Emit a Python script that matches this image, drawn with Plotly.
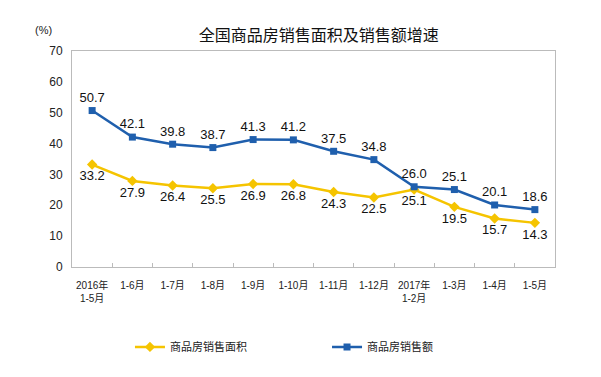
import plotly.graph_objects as go

categories = ["2016年<br>1-5月", "1-6月", "1-7月", "1-8月", "1-9月", "1-10月", "1-11月",
              "1-12月", "2017年<br>1-2月", "1-3月", "1-4月", "1-5月"]
area_growth = [33.2, 27.9, 26.4, 25.5, 26.9, 26.8, 24.3, 22.5, 25.1, 19.5, 15.7, 14.3]
sales_growth = [50.7, 42.1, 39.8, 38.7, 41.3, 41.2, 37.5, 34.8, 26.0, 25.1, 20.1, 18.6]
series_names = ["商品房销售面积", "商品房销售额"]

FONT = "Arial, Liberation Sans, Noto Sans CJK SC, sans-serif"
YELLOW = "#F5C400"
BLUE = "#1F5FAD"

fig = go.Figure()
fig.add_trace(go.Scatter(
    x=categories, y=area_growth, name=series_names[0], mode="lines+markers+text",
    line=dict(color=YELLOW, width=2.5), marker=dict(symbol="diamond", size=8, color=YELLOW),
    text=[f"{v:.1f}" for v in area_growth], textposition="bottom center",
    textfont=dict(size=13, color="#111", family=FONT), legend="legend"))
fig.add_trace(go.Scatter(
    x=categories, y=sales_growth, name=series_names[1], mode="lines+markers+text",
    line=dict(color=BLUE, width=2.5), marker=dict(symbol="square", size=7, color=BLUE),
    text=[f"{v:.1f}" for v in sales_growth], textposition="top center",
    textfont=dict(size=13, color="#111", family=FONT), legend="legend2"))

leg_common = dict(orientation="h", yanchor="middle", y=-0.37, xanchor="left",
                  font=dict(size=11, family="Noto Sans CJK SC", color="#222"),
                  bgcolor="rgba(0,0,0,0)")
fig.update_layout(
    width=593, height=369, plot_bgcolor="white", paper_bgcolor="white",
    margin=dict(l=64, r=46, t=43, b=110, autoexpand=False),
    font=dict(family=FONT, size=11, color="#222"),
    title=dict(text="全国商品房销售面积及销售额增速", x=0.524, xanchor="center", y=0.925,
               yanchor="middle", font=dict(size=16, color="#111", family="Noto Sans CJK SC")),
    showlegend=True,
    legend=dict(x=0.12, **leg_common),
    legend2=dict(x=0.528, **leg_common),
    annotations=[dict(text="(%)", xref="paper", yref="paper", x=-0.037, y=1.06,
                      xanchor="right", yanchor="bottom", showarrow=False,
                      font=dict(size=11, color="#222"))],
)
fig.update_xaxes(type="category", range=[-0.5, len(categories) - 0.5],
                 showline=True, linecolor="#BBBBBB", mirror=True,
                 ticks="inside", tickson="boundaries", ticklen=4, tickcolor="#BBBBBB",
                 showgrid=False, tickangle=0, ticklabelstandoff=9,
                 tickfont=dict(size=10, family=FONT))
fig.update_yaxes(range=[0, 70], dtick=10, showline=True, linecolor="#BBBBBB", mirror=True,
                 showgrid=False, ticks="", zeroline=False, tickfont=dict(size=12),
                 ticklabelstandoff=6)

fig.write_html("out.html")
